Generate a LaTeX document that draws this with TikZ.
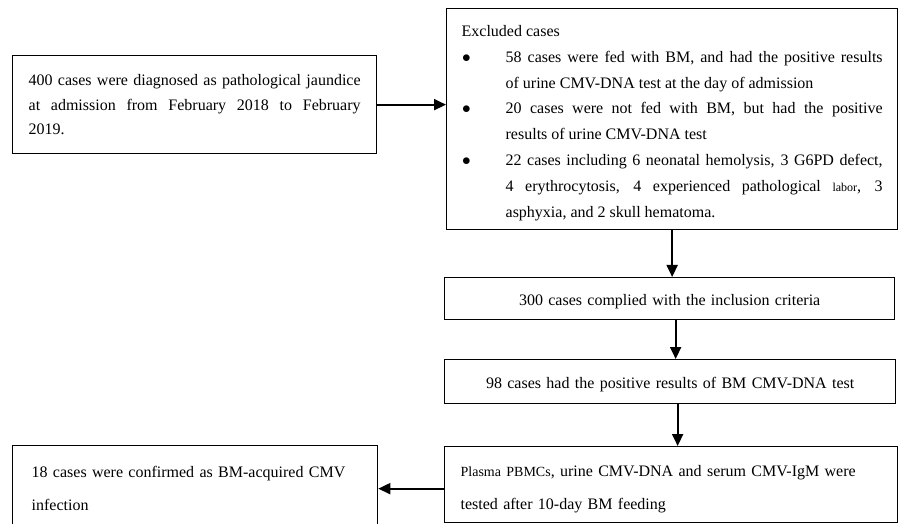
\documentclass[tikz,border=0pt]{standalone}
\usepackage{fontspec}
\setmainfont{Liberation Serif}
\usetikzlibrary{arrows.meta}

\newcommand{\exclitem}{\par\hangindent=44pt\hangafter=1\noindent\makebox[44pt][l]{\hspace{0.5pt}$\bullet$}}

\tikzset{
  flowbox/.style={draw, line width=1.3pt, inner ysep=0pt, anchor=north west},
  flow/.style={line width=1.9pt, -{Triangle[length=12pt,width=11pt]}},
}

\begin{document}
\begin{tikzpicture}[x=1pt, y=-1pt]
  \useasboundingbox (0,0) rectangle (898,524);
  % first row: all cases and the excluded ones
  \node[flowbox, minimum width=364pt, minimum height=98pt, inner xsep=16pt,
    text width=332pt, align=justify, font=\fontsize{16}{24.3}\selectfont] (diag) at (12,55)
    {400 cases were diagnosed as pathological jaundice\linebreak
     at admission from February 2018 to February\linebreak 2019.};
  \node[flowbox, minimum width=451pt, minimum height=221pt, inner xsep=15pt,
    text width=421pt, align=justify, text height=19pt,
    font=\fontsize{16}{25.86}\selectfont] (excl) at (446,8)
    {\noindent Excluded cases
     \exclitem 58 cases were fed with BM, and had the positive results\linebreak
       of urine CMV-DNA test at the day of admission
     \exclitem 20 cases were not fed with BM, but had the positive\linebreak
       results of urine CMV-DNA test
     \exclitem 22 cases including 6 neonatal hemolysis, 3 G6PD defect,\linebreak
       4 erythrocytosis, 4 experienced pathological {\fontsize{12}{12}\selectfont labor}, 3\linebreak
       asphyxia, and 2 skull hematoma.\par};
  % main column
  \node[flowbox, minimum width=450pt, minimum height=42pt, text width=420pt,
    align=center, text height=18pt, text depth=3.5pt,
    font=\fontsize{16}{20}\selectfont] (crit) at (444,277)
    {300 cases complied with the inclusion criteria};
  \node[flowbox, minimum width=451pt, minimum height=44pt, text width=420pt,
    align=center, text height=18pt, text depth=3.5pt,
    font=\fontsize{16}{20}\selectfont] (pos) at (444,359)
    {98 cases had the positive results of BM CMV-DNA test};
  \node[flowbox, minimum width=453pt, minimum height=76pt, inner xsep=16pt,
    text width=421pt, align=left, text height=19.8pt,
    font=\fontsize{16}{33}\selectfont] (test) at (444,446)
    {{\fontsize{14}{33}\selectfont Plasma PBMCs}, urine CMV-DNA and serum CMV-IgM were\\
     tested after 10-day BM feeding};
  \node[flowbox, minimum width=365pt, minimum height=85pt, inner xsep=19pt,
    text width=327pt, align=left, font=\fontsize{16}{33}\selectfont] (conf) at (12,445)
    {18 cases were confirmed as BM-acquired CMV\\ infection};

  \draw[flow] (diag.east) -- (diag.east -| excl.west);
  \draw[flow] (excl.south) -- (excl.south |- crit.north);
  \draw[flow] ([xshift=6pt]crit.south) -- ([xshift=6pt]crit.south |- pos.north);
  \draw[flow] ([xshift=7.5pt]pos.south) -- ([xshift=7.5pt]pos.south |- test.north);
  \draw[flow] ([yshift=-4pt]test.west) -- ([yshift=-4pt]test.west -| conf.east);
\end{tikzpicture}
\end{document}
